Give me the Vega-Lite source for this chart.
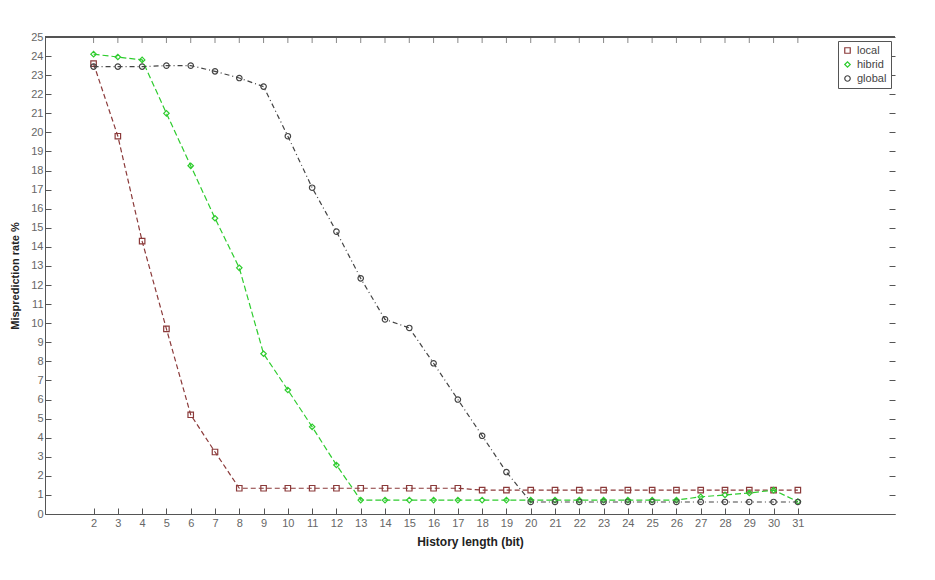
{
  "$schema": "https://vega.github.io/schema/vega-lite/v6.json",
  "width": 850,
  "height": 477,
  "autosize": "none",
  "padding": {"left": 45, "top": 37, "right": 40, "bottom": 66},
  "background": "white",
  "config": {
    "view": {"stroke": null},
    "font": "Liberation Sans",
    "axis": {"grid": false, "domainColor": "#555", "tickColor": "#555", "labelColor": "#666", "labelFontSize": 11, "titleColor": "#222", "titleFontWeight": "bold", "titleFontSize": 12, "tickSize": -6, "labelPadding": 9},
    "legend": {"orient": "top-right", "offset": 4, "strokeColor": "#555", "fillColor": "white", "padding": 4, "labelFontSize": 11, "labelColor": "#444", "rowPadding": 2, "symbolSize": 30, "symbolStrokeWidth": 1.2}
  },
  "data": {"values": [
    {"series": "local", "x": 2, "y": 23.6}, {"series": "local", "x": 3, "y": 19.8}, {"series": "local", "x": 4, "y": 14.3}, {"series": "local", "x": 5, "y": 9.7}, {"series": "local", "x": 6, "y": 5.2}, {"series": "local", "x": 7, "y": 3.25}, {"series": "local", "x": 8, "y": 1.35}, {"series": "local", "x": 9, "y": 1.35}, {"series": "local", "x": 10, "y": 1.35}, {"series": "local", "x": 11, "y": 1.35}, {"series": "local", "x": 12, "y": 1.35}, {"series": "local", "x": 13, "y": 1.35}, {"series": "local", "x": 14, "y": 1.35}, {"series": "local", "x": 15, "y": 1.35}, {"series": "local", "x": 16, "y": 1.35}, {"series": "local", "x": 17, "y": 1.35}, {"series": "local", "x": 18, "y": 1.25}, {"series": "local", "x": 19, "y": 1.25}, {"series": "local", "x": 20, "y": 1.25}, {"series": "local", "x": 21, "y": 1.25}, {"series": "local", "x": 22, "y": 1.25}, {"series": "local", "x": 23, "y": 1.25}, {"series": "local", "x": 24, "y": 1.25}, {"series": "local", "x": 25, "y": 1.25}, {"series": "local", "x": 26, "y": 1.25}, {"series": "local", "x": 27, "y": 1.25}, {"series": "local", "x": 28, "y": 1.25}, {"series": "local", "x": 29, "y": 1.25}, {"series": "local", "x": 30, "y": 1.25}, {"series": "local", "x": 31, "y": 1.25},
    {"series": "hibrid", "x": 2, "y": 24.1}, {"series": "hibrid", "x": 3, "y": 23.95}, {"series": "hibrid", "x": 4, "y": 23.8}, {"series": "hibrid", "x": 5, "y": 21.0}, {"series": "hibrid", "x": 6, "y": 18.25}, {"series": "hibrid", "x": 7, "y": 15.5}, {"series": "hibrid", "x": 8, "y": 12.9}, {"series": "hibrid", "x": 9, "y": 8.4}, {"series": "hibrid", "x": 10, "y": 6.5}, {"series": "hibrid", "x": 11, "y": 4.57}, {"series": "hibrid", "x": 12, "y": 2.57}, {"series": "hibrid", "x": 13, "y": 0.73}, {"series": "hibrid", "x": 14, "y": 0.73}, {"series": "hibrid", "x": 15, "y": 0.73}, {"series": "hibrid", "x": 16, "y": 0.73}, {"series": "hibrid", "x": 17, "y": 0.73}, {"series": "hibrid", "x": 18, "y": 0.73}, {"series": "hibrid", "x": 19, "y": 0.73}, {"series": "hibrid", "x": 20, "y": 0.73}, {"series": "hibrid", "x": 21, "y": 0.73}, {"series": "hibrid", "x": 22, "y": 0.73}, {"series": "hibrid", "x": 23, "y": 0.73}, {"series": "hibrid", "x": 24, "y": 0.73}, {"series": "hibrid", "x": 25, "y": 0.73}, {"series": "hibrid", "x": 26, "y": 0.73}, {"series": "hibrid", "x": 27, "y": 0.9}, {"series": "hibrid", "x": 28, "y": 1.0}, {"series": "hibrid", "x": 29, "y": 1.1}, {"series": "hibrid", "x": 30, "y": 1.25}, {"series": "hibrid", "x": 31, "y": 0.65},
    {"series": "global", "x": 2, "y": 23.45}, {"series": "global", "x": 3, "y": 23.45}, {"series": "global", "x": 4, "y": 23.45}, {"series": "global", "x": 5, "y": 23.5}, {"series": "global", "x": 6, "y": 23.5}, {"series": "global", "x": 7, "y": 23.2}, {"series": "global", "x": 8, "y": 22.85}, {"series": "global", "x": 9, "y": 22.4}, {"series": "global", "x": 10, "y": 19.8}, {"series": "global", "x": 11, "y": 17.1}, {"series": "global", "x": 12, "y": 14.8}, {"series": "global", "x": 13, "y": 12.35}, {"series": "global", "x": 14, "y": 10.2}, {"series": "global", "x": 15, "y": 9.75}, {"series": "global", "x": 16, "y": 7.9}, {"series": "global", "x": 17, "y": 6.0}, {"series": "global", "x": 18, "y": 4.1}, {"series": "global", "x": 19, "y": 2.2}, {"series": "global", "x": 20, "y": 0.63}, {"series": "global", "x": 21, "y": 0.63}, {"series": "global", "x": 22, "y": 0.63}, {"series": "global", "x": 23, "y": 0.63}, {"series": "global", "x": 24, "y": 0.63}, {"series": "global", "x": 25, "y": 0.63}, {"series": "global", "x": 26, "y": 0.63}, {"series": "global", "x": 27, "y": 0.63}, {"series": "global", "x": 28, "y": 0.63}, {"series": "global", "x": 29, "y": 0.63}, {"series": "global", "x": 30, "y": 0.63}, {"series": "global", "x": 31, "y": 0.63}
  ]},
  "resolve": {"axis": {"x": "independent", "y": "independent"}},
  "layer": [
    {
      "transform": [{"filter": "datum.series === 'local'"}],
      "mark": {"type": "line", "strokeWidth": 1.2, "color": "#8b3a3a", "strokeDash": [5, 3]},
      "encoding": {
        "x": {"field": "x", "type": "quantitative", "scale": {"domain": [0, 35], "nice": false}, "title": "History length (bit)", "axis": {"orient": "bottom", "values": [2,3,4,5,6,7,8,9,10,11,12,13,14,15,16,17,18,19,20,21,22,23,24,25,26,27,28,29,30,31], "titlePadding": 8}},
        "y": {"field": "y", "type": "quantitative", "scale": {"domain": [0, 25], "nice": false}, "title": "Misprediction rate %", "axis": {"orient": "left", "values": [0,1,2,3,4,5,6,7,8,9,10,11,12,13,14,15,16,17,18,19,20,21,22,23,24,25], "labelPadding": 8, "titlePadding": 10, "titleFontSize": 11}}
      }
    },
    {
      "mark": {"type": "rule", "color": "#555", "strokeWidth": 1},
      "encoding": {
        "y": {"datum": 25, "type": "quantitative", "axis": null}
      }
    },
    {
      "transform": [{"filter": "datum.series === 'global'"}],
      "mark": {"type": "tick", "orient": "vertical", "color": "#555", "size": 12, "thickness": 1, "clip": true},
      "encoding": {
        "x": {"field": "x", "type": "quantitative", "axis": null},
        "y": {"datum": 25, "type": "quantitative", "axis": null}
      }
    },
    {
      "mark": {"type": "point", "filled": false, "size": 30, "strokeWidth": 1.2, "opacity": 1},
      "encoding": {
        "x": {"field": "x", "type": "quantitative", "axis": null},
        "y": {"field": "y", "type": "quantitative", "axis": {"orient": "right", "title": "y", "titleColor": "rgba(0,0,0,0)", "labelColor": "rgba(0,0,0,0)", "domain": false, "values": [0,1,2,3,4,5,6,7,8,9,10,11,12,13,14,15,16,17,18,19,20,21,22,23,24,25]}},
        "color": {"field": "series", "type": "nominal", "scale": {"domain": ["local", "hibrid", "global"], "range": ["#8b3a3a", "#2ecc2e", "#444444"]}, "title": null},
        "shape": {"field": "series", "type": "nominal", "scale": {"domain": ["local", "hibrid", "global"], "range": ["square", "diamond", "circle"]}, "title": null}
      }
    },
    {
      "transform": [{"filter": "datum.series === 'hibrid'"}],
      "mark": {"type": "line", "strokeWidth": 1.2, "color": "#2ecc2e", "strokeDash": [6, 3]},
      "encoding": {
        "x": {"field": "x", "type": "quantitative", "axis": null},
        "y": {"field": "y", "type": "quantitative", "axis": null}
      }
    },
    {
      "transform": [{"filter": "datum.series === 'global'"}],
      "mark": {"type": "line", "strokeWidth": 1.2, "color": "#444444", "strokeDash": [5, 3, 1, 3]},
      "encoding": {
        "x": {"field": "x", "type": "quantitative", "axis": null},
        "y": {"field": "y", "type": "quantitative", "axis": null}
      }
    }
  ]
}
